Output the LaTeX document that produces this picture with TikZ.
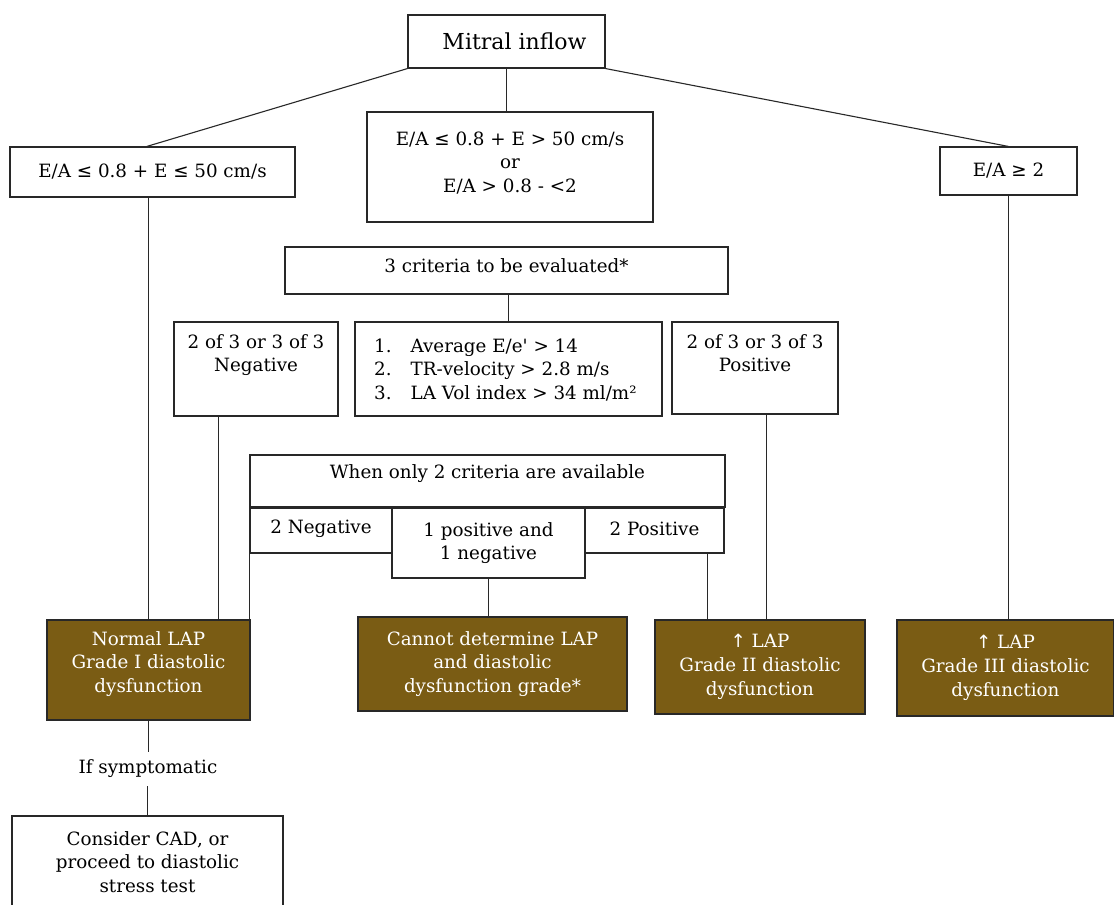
\documentclass[tikz,border=0pt]{standalone}
\usepackage{fontspec}
\setmainfont{DejaVu Serif}
\newfontfamily\symf{DejaVu Sans}
\usetikzlibrary{calc}
\definecolor{brownbox}{RGB}{122,92,20}
\definecolor{lncol}{RGB}{40,40,40}
\newcommand{\myle}{{\symf ≤}}
\newcommand{\myge}{{\symf ≥}}
\newcommand{\upar}{{\symf ↑}}
\tikzset{
  box/.style={draw=lncol, line width=1.1pt, rectangle, inner sep=0pt, align=center,
    font=\fontsize{18.3}{23.8}\selectfont, text=black},
  bbox/.style={box, fill=brownbox, text=white},
  txt/.style={inner sep=0pt, align=center, font=\fontsize{18.3}{23.8}\selectfont},
  conn/.style={draw=lncol, line width=1.1pt}
}
\begin{document}
\begin{tikzpicture}[x=1pt,y=-1pt]
\useasboundingbox (0,0) rectangle (1114,905);
\fill[white] (0,0) rectangle (1114,905);
\begin{scope}
\clip (0,0) rectangle (1114,905);
% top
\node[box, minimum width=197, minimum height=53, font=\fontsize{22}{26}\selectfont] (mitral) at (506.5,41.5) {\hspace*{16pt}Mitral inflow};
\node[box, minimum width=285, minimum height=50] (a) at (152.5,172) {E/A \myle{} 0.8 + E \myle{} 50 cm/s};
\node[box, minimum width=286, minimum height=110] (b) at (510,167) {};
\node[txt] (bt) at (510,163) {E/A \myle{} 0.8 + E > 50 cm/s\\or\\E/A > 0.8 - <2};
\node[box, minimum width=137, minimum height=48] (c) at (1008.5,171) {E/A \myge{} 2};
% criteria
\node[box, minimum width=443, minimum height=47] (crit3) at (506.5,270.5) {};
\node[txt] (crit3t) at (506.5,266) {3 criteria to be evaluated*};
\node[box, minimum width=164, minimum height=94] (neg) at (256,369) {};
\node[txt, anchor=north] (negt) at (256,334) {2 of 3 or 3 of 3\\Negative};
\node[box, minimum width=307, minimum height=94] (list) at (508.5,369) {};
\node[txt, align=left, anchor=west] (listt) at (374,370) {1.\hspace{19pt}Average E/e\textquotesingle{} > 14\\2.\hspace{19pt}TR-velocity > 2.8 m/s\\3.\hspace{19pt}LA Vol index > 34 ml/m²};
\node[box, minimum width=166, minimum height=92] (pos) at (755,368) {};
\node[txt, anchor=north] (post) at (755,334) {2 of 3 or 3 of 3\\Positive};
% two criteria
\node[box, minimum width=475, minimum height=52] (when) at (487.5,481) {};
\node[txt] (whent) at (487.5,474) {When only 2 criteria are available};
\node[box, minimum width=142, minimum height=45] (neg2) at (321,530.5) {};
\node[txt] (neg2t) at (321,529) {2 Negative};
\node[box, minimum width=193, minimum height=70] (pos1) at (488.5,543) {1 positive and\\1 negative};
\node[box, minimum width=139, minimum height=45] (pos2) at (654.5,530.5) {};
\node[txt] (pos2t) at (654.5,529) {2 Positive};
% outcomes
\node[bbox, minimum width=203, minimum height=100] (normal) at (148.5,670) {};
\node[txt, text=white] (normalt) at (148.5,664) {Normal LAP\\Grade I diastolic\\dysfunction};
\node[bbox, minimum width=269, minimum height=94] (cannot) at (492.5,664) {Cannot determine LAP\\and diastolic\\dysfunction grade*};
\node[bbox, minimum width=210, minimum height=94] (g2) at (760,667) {\upar{} LAP\\Grade II diastolic\\dysfunction};
\node[bbox, minimum width=217, minimum height=96] (g3) at (1005.5,668) {\upar{} LAP\\Grade III diastolic\\dysfunction};
\node[txt] (ifsym) at (148,769) {If symptomatic};
\node[box, minimum width=271, minimum height=100] (cad) at (147.5,866) {};
\node[txt] (cadt) at (147.5,862) {Consider CAD, or\\proceed to diastolic\\stress test};
% connectors
\draw[conn] (mitral.south west) -- ($(a.north west)!0.48!(a.north east)$);
\draw[conn] (mitral.south) -- (mitral.south |- b.north);
\draw[conn] (mitral.south east) -- (c.north);
\coordinate (aout) at ($(a.south west)!0.485!(a.south east)$);
\draw[conn] (aout) -- (aout |- normal.north);
\draw[conn] (c.south) -- (c.south |- g3.north);
\draw[conn] (list.north |- crit3.south) -- (list.north);
\coordinate (negout) at ($(neg.south west)!0.274!(neg.south east)$);
\draw[conn] (negout) -- (negout |- normal.north);
\coordinate (posout) at ($(pos.south west)!0.57!(pos.south east)$);
\draw[conn] (posout) -- (posout |- g2.north);
\draw[conn] (neg2.south west) -- (neg2.south west |- normal.north);
\draw[conn] (pos1.south) -- (pos1.south |- cannot.north);
\coordinate (pos2out) at ($(pos2.south west)!0.878!(pos2.south east)$);
\draw[conn] (pos2out) -- (pos2out |- g2.north);
\draw[conn] (normal.south) -- ($(normal.south |- ifsym.north)+(0,-8)$);
\draw[conn] ($(cad.north |- ifsym.south)+(0,8)$) -- (cad.north);
\end{scope}
\end{tikzpicture}
\end{document}
